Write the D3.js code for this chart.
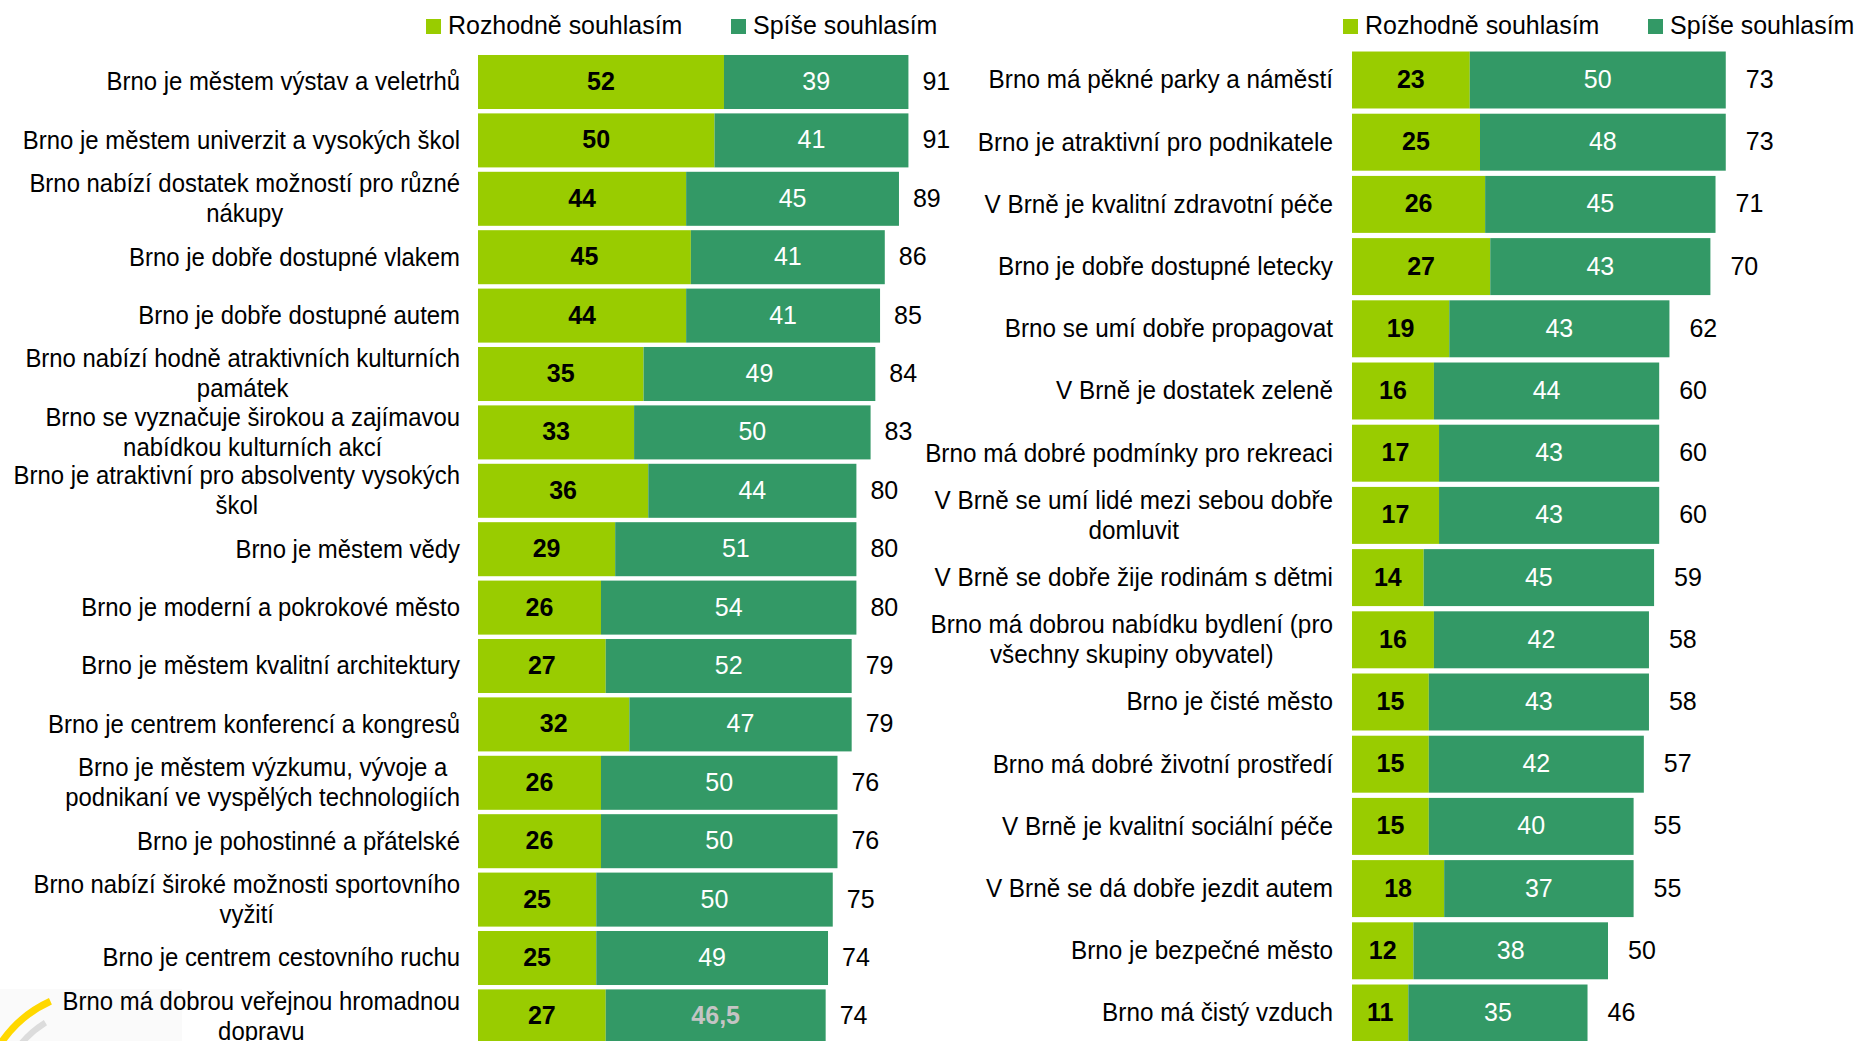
<!DOCTYPE html>
<html>
<head>
<meta charset="utf-8">
<script src="https://cdn.jsdelivr.net/npm/d3@7"></script>
<style>
  html, body { margin: 0; padding: 0; background: #ffffff; }
  svg { display: block; font-family: "Liberation Sans", Arial, Helvetica, sans-serif; }
</style>
</head>
<body>
<svg id="chart" width="1860" height="1041"></svg>
<script>
// Series (legend) names
const seriesNames = ["Rozhodně souhlasím", "Spíše souhlasím"];

// Left panel statements ("\n" marks a line break in the label)
const leftCategories = [
  "Brno je městem výstav a veletrhů",
  "Brno je městem univerzit a vysokých škol",
  "Brno nabízí dostatek možností pro různé\nnákupy",
  "Brno je dobře dostupné vlakem",
  "Brno je dobře dostupné autem",
  "Brno nabízí hodně atraktivních kulturních\npamátek",
  "Brno se vyznačuje širokou a zajímavou\nnabídkou kulturních akcí",
  "Brno je atraktivní pro absolventy vysokých\nškol",
  "Brno je městem vědy",
  "Brno je moderní a pokrokové město",
  "Brno je městem kvalitní architektury",
  "Brno je centrem konferencí a kongresů",
  "Brno je městem výzkumu, vývoje a\npodnikaní ve vyspělých technologiích",
  "Brno je pohostinné a přátelské",
  "Brno nabízí široké možnosti sportovního\nvyžití",
  "Brno je centrem cestovního ruchu",
  "Brno má dobrou veřejnou hromadnou\ndopravu"
];
const leftStrongly = [52, 50, 44, 45, 44, 35, 33, 36, 29, 26, 27, 32, 26, 26, 25, 25, 27];
const leftRather   = [39, 41, 45, 41, 41, 49, 50, 44, 51, 54, 52, 47, 50, 50, 50, 49, 46.5];
const leftTotals   = [91, 91, 89, 86, 85, 84, 83, 80, 80, 80, 79, 79, 76, 76, 75, 74, 74];

// Right panel statements
const rightCategories = [
  "Brno má pěkné parky a náměstí",
  "Brno je atraktivní pro podnikatele",
  "V Brně je kvalitní zdravotní péče",
  "Brno je dobře dostupné letecky",
  "Brno se umí dobře propagovat",
  "V Brně je dostatek zeleně",
  "Brno má dobré podmínky pro rekreaci",
  "V Brně se umí lidé mezi sebou dobře\ndomluvit",
  "V Brně se dobře žije rodinám s dětmi",
  "Brno má dobrou nabídku bydlení (pro\nvšechny skupiny obyvatel)",
  "Brno je čisté město",
  "Brno má dobré životní prostředí",
  "V Brně je kvalitní sociální péče",
  "V Brně se dá dobře jezdit autem",
  "Brno je bezpečné město",
  "Brno má čistý vzduch"
];
const rightStrongly = [23, 25, 26, 27, 19, 16, 17, 17, 14, 16, 15, 15, 15, 18, 12, 11];
const rightRather   = [50, 48, 45, 43, 43, 44, 43, 43, 45, 42, 43, 42, 40, 37, 38, 35];
const rightTotals   = [73, 73, 71, 70, 62, 60, 60, 60, 59, 58, 58, 57, 55, 55, 50, 46];

const colors = ["#99cc00", "#339966"];

const svg = d3.select("#chart");
const fmt = d3.formatLocale({ decimal: ",", thousands: "\u00a0", grouping: [3], currency: ["", " Kč"] }).format("~g");

const FONT = 26;          // label font size
const LINE_H = 30;        // line spacing of wrapped labels
const DY = "0.32em";

// Faint logo mark in the lower left corner
const logo = svg.append("g").attr("class", "logo");
logo.append("rect").attr("x", 0).attr("y", 989).attr("width", 182).attr("height", 52).attr("fill", "#fafafa");
const deg = Math.PI / 180;
logo.append("path")
  .attr("transform", "translate(100,1110)")
  .attr("d", d3.arc().innerRadius(116).outerRadius(123).startAngle(-60 * deg).endAngle(-24.5 * deg)())
  .attr("fill", "#ffd800");
logo.append("path")
  .attr("transform", "translate(100,1110)")
  .attr("d", d3.arc().innerRadius(100).outerRadius(106).startAngle(-62 * deg).endAngle(-32 * deg)())
  .attr("fill", "#dcdcdc");

function drawPanel(cfg) {
  const n = cfg.categories.length;
  const rows = cfg.categories.map((c, i) => ({ i, cat: c, a: cfg.strongly[i], b: cfg.rather[i], total: cfg.totals[i] }));

  const x = d3.scaleLinear().domain([0, 100]).range([cfg.x0, cfg.x0 + cfg.unit * 100]);
  const y = d3.scaleBand()
    .domain(d3.range(n))
    .range([cfg.y0, cfg.y0 + n * cfg.step])
    .paddingInner(cfg.pad)
    .paddingOuter(cfg.pad / 2);
  const yc = i => y(i) + y.bandwidth() / 2;

  const g = svg.append("g");
  const layers = d3.stack().keys(["a", "b"])(rows);

  // bars
  layers.forEach((layer, k) => {
    g.append("g").selectAll("rect").data(layer).join("rect")
      .attr("x", d => x(d[0]))
      .attr("y", d => y(d.data.i))
      .attr("width", d => x(d[1]) - x(d[0]))
      .attr("height", y.bandwidth())
      .attr("fill", colors[k]);
  });

  // values inside segments
  g.append("g").selectAll("text").data(layers[0]).join("text")
    .attr("x", d => x((d[0] + d[1]) / 2))
    .attr("y", d => yc(d.data.i))
    .attr("dy", DY)
    .attr("text-anchor", "middle")
    .attr("font-size", 25)
    .attr("font-weight", "bold")
    .attr("fill", "#000")
    .text(d => fmt(d.data.a));

  g.append("g").selectAll("text").data(layers[1]).join("text")
    .attr("x", d => x((d[0] + d[1]) / 2))
    .attr("y", d => yc(d.data.i))
    .attr("dy", DY)
    .attr("text-anchor", "middle")
    .attr("font-size", 25)
    .attr("font-weight", d => Number.isInteger(d.data.b) ? "normal" : "bold")
    .attr("fill", d => Number.isInteger(d.data.b) ? "#ffffff" : "#c4c4c4")
    .text(d => fmt(d.data.b));

  // totals right of the bars
  g.append("g").selectAll("text").data(rows).join("text")
    .attr("x", d => x(d.a + d.b) + cfg.totalGap)
    .attr("y", d => yc(d.i))
    .attr("dy", DY)
    .attr("font-size", 25)
    .attr("fill", "#000")
    .text(d => fmt(d.total));

  // category labels: right aligned block, lines centred within it
  const lab = g.append("g").selectAll("g").data(rows).join("g")
    .attr("transform", d => `translate(${cfg.labelRight},${yc(d.i)}) scale(${cfg.squeeze},1)`);
  lab.each(function (d) {
    const lines = d.cat.split("\n");
    const sel = d3.select(this);
    const texts = lines.map((line, j) =>
      sel.append("text")
        .attr("y", (j - (lines.length - 1) / 2) * LINE_H)
        .attr("dy", DY)
        .attr("font-size", FONT)
        .attr("fill", "#000")
        .attr("text-anchor", "end")
        .text(line)
    );
    if (lines.length > 1) {
      const w = d3.max(texts, t => t.node().getComputedTextLength());
      texts.forEach(t => t.attr("text-anchor", "middle").attr("x", -w / 2));
    }
  });

  // legend
  const leg = svg.append("g");
  seriesNames.forEach((name, k) => {
    const lx = cfg.legendX[k];
    leg.append("rect").attr("x", lx).attr("y", 19).attr("width", 15).attr("height", 15).attr("fill", colors[k]);
    leg.append("text")
      .attr("transform", `translate(${lx + 22},34) scale(0.96,1)`)
      .attr("font-size", FONT)
      .attr("fill", "#000")
      .text(name);
  });
}

drawPanel({
  categories: leftCategories, strongly: leftStrongly, rather: leftRather, totals: leftTotals,
  x0: 478, unit: 4.73, y0: 52.8, step: 58.4, pad: 0.075,
  labelRight: 460, squeeze: 0.92, totalGap: 14, legendX: [426, 731]
});

drawPanel({
  categories: rightCategories, strongly: rightStrongly, rather: rightRather, totals: rightTotals,
  x0: 1352, unit: 5.12, y0: 48.9, step: 62.2, pad: 0.084,
  labelRight: 1333, squeeze: 0.935, totalGap: 20, legendX: [1343, 1648]
});
</script>
</body>
</html>
